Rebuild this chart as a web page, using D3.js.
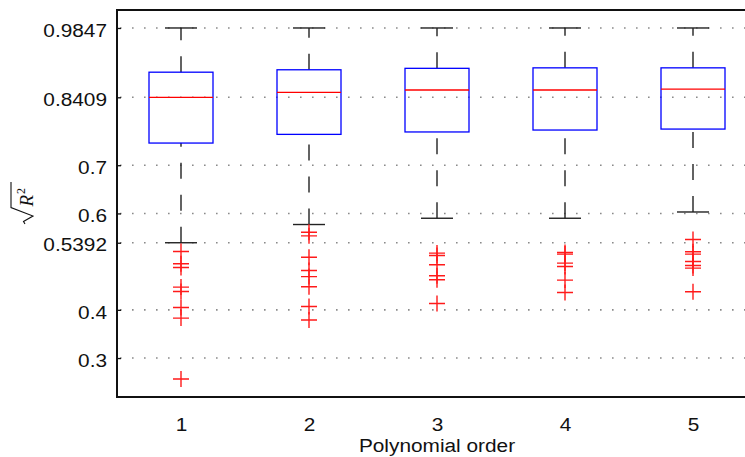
<!DOCTYPE html>
<html>
<head>
<meta charset="utf-8">
<script src="https://cdn.jsdelivr.net/npm/d3@7"></script>
<style>
  body { margin: 0; background: #fff; }
  svg { display: block; }
</style>
</head>
<body>
<svg width="745" height="457"></svg>
<script>
const categories = [1, 2, 3, 4, 5];
const upperWhisker = [0.9847, 0.9847, 0.9847, 0.9847, 0.9847];
const q3 = [0.893, 0.898, 0.901, 0.902, 0.902];
const median = [0.8409, 0.851, 0.856, 0.856, 0.858];
const q1 = [0.746, 0.764, 0.769, 0.773, 0.775];
const lowerWhisker = [0.5392, 0.577, 0.590, 0.590, 0.603];
const outliers = [
  [0.521, 0.4955, 0.4878, 0.4472, 0.438, 0.4049, 0.3829, 0.2565],
  [0.561, 0.5535, 0.509, 0.4816, 0.469, 0.448, 0.407, 0.3788],
  [0.5177, 0.5127, 0.4934, 0.4706, 0.4623, 0.4132],
  [0.5189, 0.5156, 0.4969, 0.4899, 0.4617, 0.436],
  [0.5459, 0.5204, 0.5156, 0.5002, 0.492, 0.4866, 0.4374]
];
const yTicks = [0.3, 0.4, 0.5392, 0.6, 0.7, 0.8409, 0.9847];

const FONT = '"Liberation Sans", Arial, Helvetica, sans-serif';
const FS = 18.6, SX = 1.12; // labels in the original are a bit wide

const margin = { left: 117, top: 10 };
const plotW = 640, plotH = 387;

const svg = d3.select('svg');
const g = svg.append('g').attr('transform', `translate(${margin.left},${margin.top})`);

const x = d3.scaleLinear().domain([0.5, 5.5]).range([0, plotW]);
const y = d3.scaleLinear().domain([0.2192, 1.022]).range([plotH, 0]);

// dotted grid
g.append('g')
  .selectAll('line')
  .data(yTicks)
  .enter()
  .append('line')
  .attr('x1', 0).attr('x2', plotW)
  .attr('y1', d => y(d)).attr('y2', d => y(d))
  .attr('stroke', '#8a8a8a')
  .attr('stroke-width', 1.6)
  .attr('stroke-dasharray', '1.6,10.4')
  .attr('stroke-dashoffset', -3);

function styleLabels(sel, dx) {
  sel.selectAll('text')
    .attr('font-size', FS)
    .attr('font-family', FONT)
    .attr('fill', '#111')
    .attr('x', dx / SX)
    .attr('transform', `scale(${SX},1)`);
}

// y axis
const yAxis = g.append('g')
  .call(d3.axisLeft(y).tickValues(yTicks).tickFormat(d => String(d)).tickSizeInner(-4).tickSizeOuter(0));
yAxis.select('.domain').remove();
yAxis.selectAll('line').attr('stroke', '#111').attr('stroke-width', 1.3);
styleLabels(yAxis, -10);
yAxis.selectAll('text').attr('dy', '0.44em');

// x axis
const xAxis = g.append('g')
  .attr('transform', `translate(0,${plotH})`)
  .call(d3.axisBottom(x).tickValues(categories).tickFormat(d3.format('d')).tickSize(0).tickPadding(21));
xAxis.select('.domain').remove();
styleLabels(xAxis, 0);

// frame
g.append('path')
  .attr('d', `M${plotW},0H0V${plotH}H${plotW}`)
  .attr('fill', 'none')
  .attr('stroke', '#111')
  .attr('stroke-width', 2);

const boxes = categories.map((c, i) => ({
  c, hi: upperWhisker[i], q3: q3[i], med: median[i], q1: q1[i], lo: lowerWhisker[i], out: outliers[i]
}));
const boxHalf = 0.25, capHalf = 0.125;

const bg = g.selectAll('.box').data(boxes).enter().append('g').attr('class', 'box');

// whiskers (dashed)
bg.append('line')
  .attr('x1', d => x(d.c)).attr('x2', d => x(d.c))
  .attr('y1', d => y(d.q3)).attr('y2', d => y(d.hi))
  .attr('stroke', '#222').attr('stroke-width', 1.4)
  .attr('stroke-dasharray', '16,16');
bg.append('line')
  .attr('x1', d => x(d.c)).attr('x2', d => x(d.c))
  .attr('y1', d => y(d.lo)).attr('y2', d => y(d.q1))
  .attr('stroke', '#222').attr('stroke-width', 1.4)
  .attr('stroke-dasharray', '16,16');

// caps
['hi', 'lo'].forEach(k => {
  bg.append('line')
    .attr('x1', d => x(d.c - capHalf)).attr('x2', d => x(d.c + capHalf))
    .attr('y1', d => y(d[k])).attr('y2', d => y(d[k]))
    .attr('stroke', '#222').attr('stroke-width', 1.4);
});

// box
bg.append('rect')
  .attr('x', d => x(d.c - boxHalf))
  .attr('width', d => x(d.c + boxHalf) - x(d.c - boxHalf))
  .attr('y', d => y(d.q3))
  .attr('height', d => y(d.q1) - y(d.q3))
  .attr('fill', 'none')
  .attr('stroke', '#0000ff')
  .attr('stroke-width', 1.3);

// median
bg.append('line')
  .attr('x1', d => x(d.c - boxHalf)).attr('x2', d => x(d.c + boxHalf))
  .attr('y1', d => y(d.med)).attr('y2', d => y(d.med))
  .attr('stroke', '#ff0000').attr('stroke-width', 1.3);

// outliers
const arm = 8;
bg.selectAll('.out')
  .data(d => d.out.map(v => ({ c: d.c, v })))
  .enter()
  .append('path')
  .attr('class', 'out')
  .attr('d', d => `M${x(d.c) - arm},${y(d.v)}h${2 * arm}M${x(d.c)},${y(d.v) - arm}v${2 * arm}`)
  .attr('stroke', '#ff1a1a')
  .attr('stroke-width', 1.4)
  .attr('fill', 'none');

// x label
svg.append('text')
  .attr('transform', `translate(${margin.left + plotW / 2},451.5) scale(${SX},1)`)
  .attr('text-anchor', 'middle')
  .attr('font-size', FS)
  .attr('font-family', FONT)
  .attr('fill', '#111')
  .text('Polynomial order');

// y label: sqrt(R^2), radical drawn as a path
const yl = svg.append('g').attr('transform', 'translate(33,203) rotate(-90)');
yl.append('path')
  .attr('d', 'M-21,-8L-18.5,-9.5L-13,0L-4.5,-22H21')
  .attr('fill', 'none')
  .attr('stroke', '#111')
  .attr('stroke-width', 1.1)
  .attr('stroke-linejoin', 'miter');
const ylt = yl.append('text')
  .attr('x', -3.5).attr('y', -0.5)
  .attr('font-family', '"Liberation Serif", "DejaVu Serif", serif')
  .attr('font-size', 19)
  .attr('fill', '#111');
ylt.append('tspan').attr('font-style', 'italic').text('R');
ylt.append('tspan').attr('font-size', 12).attr('dx', 1).attr('dy', -8).text('2');
</script>
</body>
</html>
